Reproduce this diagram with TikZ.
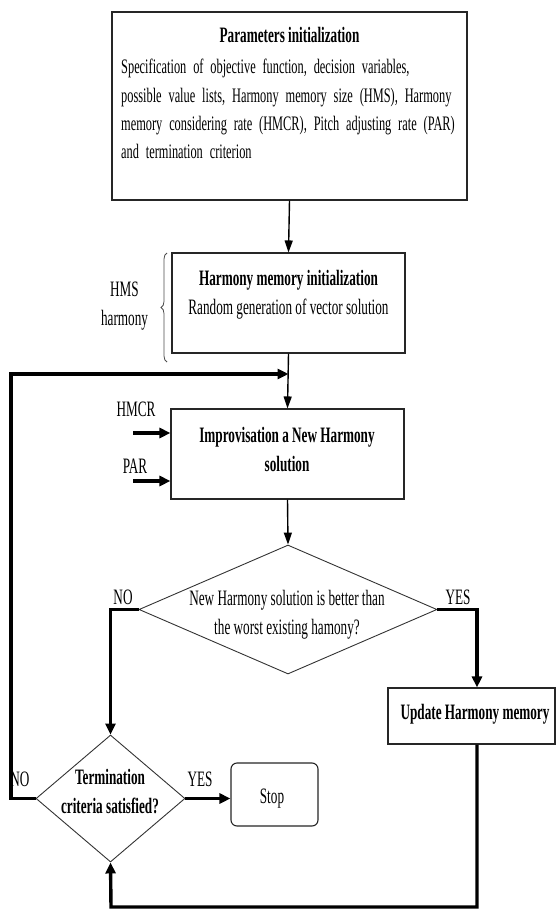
\documentclass[tikz,border=0pt]{standalone}
\usepackage{fontspec}
\setmainfont{Liberation Serif}[FakeStretch=0.6]
\usetikzlibrary{shapes.geometric,arrows.meta,decorations.pathreplacing}
\newcommand\myfs{\fontsize{22}{28.3}\selectfont}
\begin{document}
\begin{tikzpicture}[x=1pt,y=-1pt,
  every node/.style={font=\myfs, inner sep=0pt},
  txt/.style={anchor=base, align=center},
  btxt/.style={anchor=base, align=center, font=\myfs\bfseries},
  box/.style={draw=black!85, line width=1.1pt, fill=white, rectangle},
  dia/.style={draw=black!80, line width=0.9pt, diamond, inner sep=0pt, aspect=1},
  thinarrow/.style={line width=1.4pt, -{Triangle[length=12pt,width=8pt]}},
  thickarrow/.style={line width=3.4pt, -{Triangle[length=11pt,width=10pt]}},
]
\useasboundingbox (0,0) rectangle (557,909);

% boxes
\node[box, minimum width=355pt, minimum height=188pt] (params) at (289.5,106) {};
\node[box, minimum width=233pt, minimum height=100pt] (hms) at (288.5,303) {};
\node[box, minimum width=233pt, minimum height=90pt] (improv) at (287.5,454) {};
\node[dia, minimum width=298pt, minimum height=129pt] (dec) at (288,609.5) {};
\node[box, minimum width=167pt, minimum height=56pt] (update) at (471.5,716) {};
\node[dia, minimum width=149pt, minimum height=127pt] (term) at (110.5,798.5) {};
\node[box, rounded corners=6pt, minimum width=87pt, minimum height=63pt] (stop) at (274.5,794.5) {};

% texts (multi-line nodes are placed by the baseline of their last line)
\node[btxt] (paramsTitle) at (289.5,43) {Parameters initialization};
\node[anchor=base west, align=left, text width=335pt, font=\fontsize{20.6}{28.3}\selectfont] (paramsBody) at (121,74)
  {\makebox[\linewidth][s]{Specification of objective function, decision variables,}\\
   \makebox[\linewidth][s]{possible value lists, Harmony memory size (HMS), Harmony}\\
   \makebox[\linewidth][s]{memory considering rate (HMCR), Pitch adjusting rate (PAR)}\\
   and termination criterion};
\node[btxt] (hmsT1) at (288.5,285) {Harmony memory initialization};
\node[txt] (hmsT2) at (288.5,314) {Random generation of vector solution};
\node[btxt] (improvT) at (287,471) {Improvisation a New Harmony\\solution};
\node[txt] (decT) at (287,634) {New Harmony solution is better than\\the worst existing hamony?};
\node[btxt] (updateT) at (475,719) {Update Harmony memory};
\node[btxt] (termT) at (110,813) {Termination\\criteria satisfied?};
\node[txt] (stopT) at (272,803) {Stop};

% labels
\node[txt] (hmsLbl) at (124.5,325) {HMS\\harmony};
\node[txt] (hmcrLbl) at (136,416) {HMCR};
\node[txt] (parLbl) at (135,473) {PAR};
\node[txt] (noA) at (123,604) {NO};
\node[txt] (yesA) at (458,604) {YES};
\node[txt] (noB) at (20,786) {NO};
\node[txt] (yesB) at (200,786) {YES};

% brace
\draw[decorate, decoration={brace, amplitude=6pt}, line width=0.8pt, draw=black!70]
  (167,362) -- (167,253);

% coordinates
\coordinate (loopY) at (11,374);
\coordinate (join) at (hms.south |- loopY);
\coordinate (hmcrS) at (133,433);
\coordinate (parS) at (133,481);
\coordinate (bot) at (111,907);

% connectors
\draw[thinarrow] (params.south) -- (hms.north);
\draw[thinarrow] (hms.south) -- (improv.north);
\draw[thinarrow] (improv.south) -- (dec.north);
\draw[thickarrow] (hmcrS) -- (improv.west |- hmcrS);
\draw[thickarrow] (parS) -- (improv.west |- parS);
\draw[thickarrow] (dec.west) -| (term.north);
\draw[thickarrow] (dec.east) -| ([xshift=5.5pt]update.north);
\draw[thickarrow] (term.east) -- (term.east -| stop.west);
\draw[thickarrow] (term.west) -- (loopY |- term.west) -- (loopY) -- (join);
\draw[thickarrow] ([xshift=5.5pt]update.south) |- (bot) -- (term.south);
\end{tikzpicture}
\end{document}
